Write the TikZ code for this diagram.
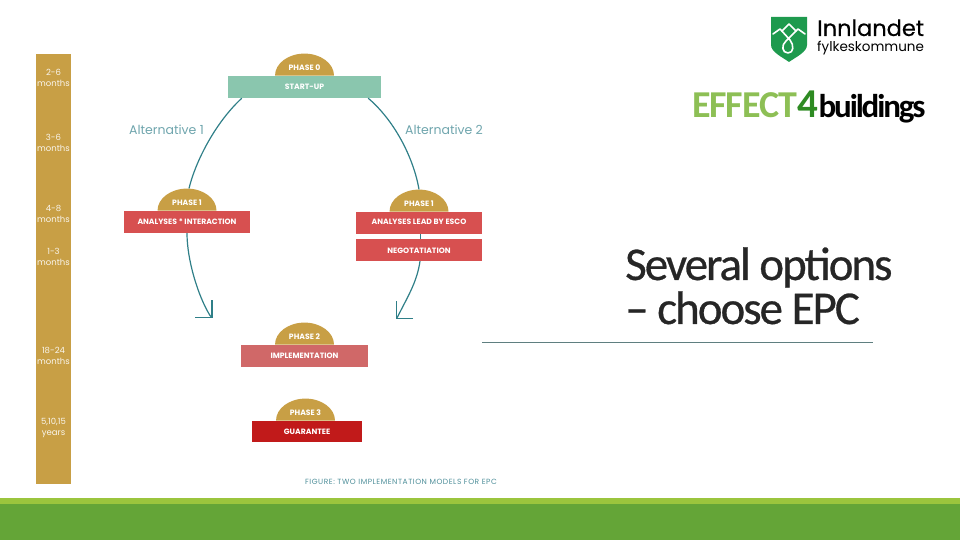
\documentclass[tikz,border=0pt]{standalone}
\usepackage{fontspec}
\setmainfont{Poppins}
\newfontfamily\titlefont[LetterSpace=-4.3,FakeBold=0.6]{Carlito}
\newfontfamily\effectfont[LetterSpace=-3]{Carlito}
\newfontfamily\buildingsfont[LetterSpace=-6.5]{Carlito}
\newfontfamily\captionfont[LetterSpace=7.3]{Poppins}
\newfontfamily\countyfont[FakeBold=0.3]{Poppins}
\usetikzlibrary{positioning, arrows.meta}
\definecolor{phasegold}{HTML}{C89F45}
\definecolor{startgreen}{HTML}{8AC6AE}
\definecolor{stagered}{HTML}{D75050}
\definecolor{implred}{HTML}{D06868}
\definecolor{guarred}{HTML}{C11A1A}
\definecolor{flowteal}{HTML}{2F7F88}
\definecolor{lighttext}{HTML}{6FA5AD}
\definecolor{captionteal}{HTML}{4F8F9A}
\definecolor{barlight}{HTML}{9BC53D}
\definecolor{bardark}{HTML}{64A537}
\definecolor{rulegrey}{HTML}{5F7F80}
\definecolor{logogreen}{HTML}{1E9A4E}
\definecolor{effectlight}{HTML}{8DBF55}
\definecolor{effectdark}{HTML}{2E8B22}
\definecolor{titleink}{HTML}{262626}
\tikzset{
    x=1pt, y=1pt,
    stagebox/.style={minimum height=22pt, inner sep=0pt, text=white, text height=5.5pt, text depth=0pt, font=\fontsize{7.7}{8}\selectfont\bfseries},
    dome/.style={minimum width=59pt, minimum height=22pt, inner sep=0pt, text=white, text height=11pt, text depth=0pt, font=\fontsize{7.7}{8}\selectfont\bfseries,
      path picture={\fill[phasegold] (path picture bounding box.south west) arc[start angle=180, end angle=0, x radius=29.5pt, y radius=22pt] -- cycle;}},
    flow/.style={draw=flowteal, line width=1.2pt},
    flowtip/.style={flow, -{Straight Barb[length=12pt, width=24pt]}},
    durationlabel/.style={text=white!90!phasegold, align=center, font=\fontsize{8.5}{11}\selectfont},
    altlabel/.style={text=lighttext, font=\fontsize{12.5}{14}\selectfont},
    titleline/.style={anchor=base west, inner sep=0pt, text=titleink, font=\titlefont\fontsize{47}{50}\selectfont},
    emblem/.style={draw=white, line width=1.6pt, line cap=round, line join=round},
}
\begin{document}
\begin{tikzpicture}
    \useasboundingbox (0,0) rectangle (960,540);

    % footer
    \fill[bardark] (0,0) rectangle (960,36);
    \fill[barlight] (0,36) rectangle (960,42);

    % time column
    \node[fill=phasegold, minimum width=35pt, minimum height=430pt, inner sep=0pt] (timebar) at (53.5,271) {};
    \node[durationlabel] (d0) at (53.5,462.5) {2-6\\months};
    \node[durationlabel] (d1) at (53.5,397) {3-6\\months};
    \node[durationlabel] (d2) at (53.5,326.5) {4-8\\months};
    \node[durationlabel] (d3) at (53.5,283.5) {1-3\\months};
    \node[durationlabel] (d4) at (53.5,184.5) {18-24\\months};
    \node[durationlabel] (d5) at (53.5,112.5) {5,10,15\\years};

    % stages
    \node[stagebox, fill=startgreen, minimum width=153pt] (startup) at (304.5,453) {START-UP};
    \node[stagebox, fill=stagered, minimum width=126pt] (interaction) at (187,318) {ANALYSES * INTERACTION};
    \node[stagebox, fill=stagered, minimum width=126pt, text depth=3pt] (esco) at (419,317) {ANALYSES LEAD BY ESCO};
    \node[stagebox, fill=stagered, minimum width=126pt, text height=7pt] (negotiation) at (419,290) {NEGOTATIATION};
    \node[stagebox, fill=implred, minimum width=127pt] (implementation) at (304.5,184) {IMPLEMENTATION};
    \node[stagebox, fill=guarred, minimum width=110pt, minimum height=21pt] (guarantee) at (307,108.5) {GUARANTEE};

    \node[dome, above=0pt of startup] (phase0) {PHASE 0};
    \node[dome, above=0pt of interaction] (phase1a) {PHASE 1};
    \node[dome, above=0pt of esco] (phase1b) {PHASE 1};
    \node[dome, above=0pt of implementation] (phase2) {PHASE 2};
    \node[dome, above=0pt of guarantee, xshift=-1.5pt] (phase3) {PHASE 3};

    % connectors
    \coordinate (tipa) at (212.5,222);
    \coordinate (tipb) at (395.5,221);
    \draw[flow] ([xshift=14pt]startup.south west) .. controls (216,418) and (196,380) .. ([xshift=2pt]phase1a.north);
    \draw[flowtip] (interaction.south) .. controls (187,280) and (198,244) .. (210,224.5) -- (tipa);
    \draw[flow] ([xshift=-13pt]startup.south east) .. controls (396,418) and (414,380) .. (phase1b.north);
    \draw[flow] ([xshift=1.5pt]esco.south) -- ([xshift=1.5pt]negotiation.north);
    \draw[flowtip] ([xshift=1pt]negotiation.south) .. controls (417,258) and (408,244) .. (397.5,223) -- (tipb);

    \node[altlabel] (alt1) at (166.5,410) {Alternative 1};
    \node[altlabel] (alt2) at (444,410) {Alternative 2};
    \node[text=captionteal, font=\captionfont\fontsize{7.5}{8}\selectfont] (caption) at (401,58.5) {FIGURE: TWO IMPLEMENTATION MODELS FOR EPC};

    % title
    \node[titleline] (title1) at (625,260) {Several options};
    \node[titleline] (title2) at (625,216) {– choose EPC};
    \draw[rulegrey, line width=0.7pt] (482,198) -- (873,198);

    % logos
    \fill[logogreen] (771,523) -- (807,523) -- (807,495) .. controls (807,488) and (796,483) .. (789,478) .. controls (782,483) and (771,488) .. (771,495) -- cycle;
    \draw[emblem] (782,509) -- (789,516) -- (796,509);
    \draw[emblem] (773,506) -- (780,511) -- (790,500) .. controls (794,495) and (794,487) .. (788,487) .. controls (782,487) and (781,495) .. (786,499) -- (798,511) -- (805,506);
    \node[anchor=base west, inner sep=0pt, font=\countyfont\fontsize{22.5}{24}\selectfont] (innlandet) at (817,504) {Innlandet};
    \node[anchor=base west, inner sep=0pt, font=\fontsize{13.5}{15}\selectfont] (fylke) at (817,488.5) {fylkeskommune};
    \node[anchor=base west, inner sep=0pt, text=effectlight, font=\effectfont\fontsize{38}{40}\selectfont\bfseries] (effect) at (692,422) {EFFECT};
    \node[right=0pt of effect.base east, anchor=base west, inner sep=0pt, text=effectdark, font=\effectfont\fontsize{41}{43}\selectfont\bfseries] (four) {4};
    \node[right=0pt of four.base east, anchor=base west, inner sep=0pt, font=\buildingsfont\fontsize{33}{35}\selectfont\bfseries] (buildings) {buildings};
\end{tikzpicture}
\end{document}
